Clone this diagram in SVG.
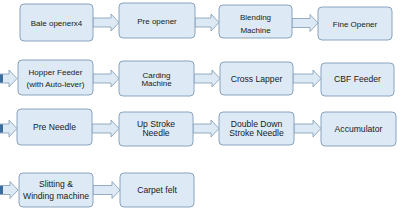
<svg xmlns="http://www.w3.org/2000/svg" width="400" height="215" viewBox="0 0 400 215">
<style>
.box{fill:#dde9f5;stroke:#8aa3bd;stroke-width:1}
.arr{fill:#dde9f5;stroke:#7f9ab3;stroke-width:0.8}
.stub{fill:#3d6d9c}
text{font-family:"Liberation Sans",Arial,sans-serif;font-size:8px;fill:#1a1a1a;text-anchor:middle}
.big{font-size:8.6px}
</style>
<rect width="400" height="215" fill="#ffffff"/>
<g id="connectors">
<path class="arr" d="M93,18 H111 V14 L119,22.5 L111,31 V27 H93 Z"/>
<path class="arr" d="M195,18 H211 V14 L219,22.5 L211,31 V27 H195 Z"/>
<path class="arr" d="M292,18.5 H310 V14.5 L318,23 L310,31.5 V27.5 H292 Z"/>
<path class="arr" d="M0,74 H9 V70 L17,78.5 L9,87 V83 H0 Z"/>
<rect class="stub" x="0" y="74.4" width="3" height="8.2"/>
<path class="arr" d="M93,74 H111 V70 L119,78.5 L111,87 V83 H93 Z"/>
<path class="arr" d="M194,74 H212 V70 L220,78.5 L212,87 V83 H194 Z"/>
<path class="arr" d="M293,74 H313 V70 L321,78.5 L313,87 V83 H293 Z"/>
<path class="arr" d="M0,124 H9 V120 L17,128.5 L9,137 V133 H0 Z"/>
<rect class="stub" x="0" y="124.4" width="3" height="8.2"/>
<path class="arr" d="M92,124 H111 V120 L119,128.5 L111,137 V133 H92 Z"/>
<path class="arr" d="M193,124 H211 V120 L219,128.5 L211,137 V133 H193 Z"/>
<path class="arr" d="M294,124 H313 V120 L321,128.5 L313,137 V133 H294 Z"/>
<path class="arr" d="M0,185.5 H10 V181.5 L18,190 L10,198.5 V194.5 H0 Z"/>
<rect class="stub" x="0" y="185.9" width="3" height="8.2"/>
<path class="arr" d="M93,185.5 H112 V181.5 L120,190 L112,198.5 V194.5 H93 Z"/>
</g>
<g id="bale"><rect class="box" x="20" y="4" width="73" height="37" rx="4"/><text x="56.5" y="25.5">Bale openerx4</text></g>
<g id="preopener"><rect class="box" x="119" y="3" width="76" height="35" rx="4"/><text x="157" y="23.5">Pre opener</text></g>
<g id="blending"><rect class="box" x="219" y="5" width="73" height="33" rx="4"/><text x="255.5" y="20">Blending</text><text x="255.5" y="32.5">Machine</text></g>
<g id="fineopener"><rect class="box" x="318" y="7" width="74" height="33" rx="4"/><text x="355" y="26.5">Fine Opener</text></g>
<g id="hopper"><rect class="box" x="18" y="60" width="75" height="35" rx="4"/><text x="55.5" y="74.5">Hopper Feeder</text><text x="55.5" y="87">(with Auto-lever)</text></g>
<g id="carding"><rect class="box" x="119" y="61" width="75" height="35" rx="4"/><text x="156.5" y="77.5">Carding</text><text x="156.5" y="85.5">Machine</text></g>
<g id="crosslapper"><rect class="box" x="220" y="62" width="73" height="33" rx="4"/><text class="big" x="256.5" y="81.5">Cross Lapper</text></g>
<g id="cbf"><rect class="box" x="321" y="63" width="73" height="33" rx="4"/><text class="big" x="357.5" y="82">CBF Feeder</text></g>
<g id="preneedle"><rect class="box" x="17" y="109" width="75" height="36" rx="4"/><text class="big" x="54.5" y="130">Pre Needle</text></g>
<g id="upstroke"><rect class="box" x="119" y="112" width="74" height="34" rx="4"/><text class="big" x="156" y="127">Up Stroke</text><text class="big" x="156" y="135.5">Needle</text></g>
<g id="doubledown"><rect class="box" x="219" y="112" width="75" height="33" rx="4"/><text class="big" x="256.5" y="127">Double Down</text><text class="big" x="256.5" y="135.5">Stroke Needle</text></g>
<g id="accumulator"><rect class="box" x="321" y="112" width="75" height="34" rx="4"/><text class="big" x="358.5" y="132">Accumulator</text></g>
<g id="slitting"><rect class="box" x="19" y="173" width="74" height="34" rx="4"/><text class="big" x="56" y="186.5">Slitting &amp;</text><text class="big" x="56" y="198.5">Winding machine</text></g>
<g id="carpet"><rect class="box" x="120" y="173" width="74" height="34" rx="4"/><text class="big" x="157" y="193">Carpet felt</text></g>
</svg>
